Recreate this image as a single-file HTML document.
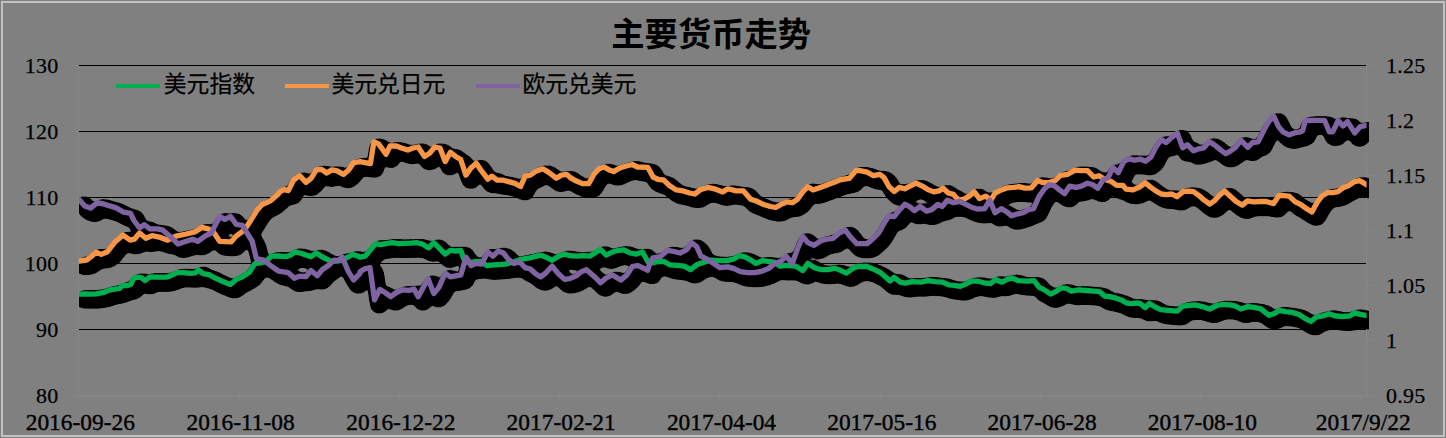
<!DOCTYPE html>
<html><head><meta charset="utf-8"><title>chart</title>
<style>
html,body{margin:0;padding:0;}
body{width:1446px;height:438px;background:#808080;overflow:hidden;position:relative;font-family:"Liberation Serif",serif;color:#000;}
.yl,.yr,.xl{position:absolute;white-space:nowrap;line-height:24px;height:24px;}
.yl{left:0;width:58.4px;text-align:right;font-size:22px;letter-spacing:0.25px;-webkit-text-stroke:0.25px #000;}
.yr{left:1386px;text-align:left;font-size:22px;letter-spacing:0.25px;-webkit-text-stroke:0.25px #000;}
.xl{top:410px;width:160px;text-align:center;font-size:23.4px;-webkit-text-stroke:0.4px #000;}
</style></head><body>
<svg width="1446" height="438" viewBox="0 0 1446 438" style="position:absolute;left:0;top:0"><defs><clipPath id="cp"><rect x="79" y="40" width="1290" height="380"/></clipPath></defs><rect x="2" y="2" width="1442" height="434" fill="none" stroke="#c0c0c0" stroke-width="2" shape-rendering="crispEdges"/><g stroke="#868686" stroke-width="1" shape-rendering="crispEdges"><line x1="71" y1="395.5" x2="1366" y2="395.5"/><line x1="78.5" y1="65" x2="78.5" y2="402"/><line x1="1366.5" y1="65" x2="1366.5" y2="396"/><line x1="71" y1="65.5" x2="79" y2="65.5"/><line x1="71" y1="131.5" x2="79" y2="131.5"/><line x1="71" y1="197.5" x2="79" y2="197.5"/><line x1="71" y1="263.5" x2="79" y2="263.5"/><line x1="71" y1="329.5" x2="79" y2="329.5"/><line x1="1366" y1="65.5" x2="1374" y2="65.5"/><line x1="1366" y1="120.5" x2="1374" y2="120.5"/><line x1="1366" y1="175.5" x2="1374" y2="175.5"/><line x1="1366" y1="230.5" x2="1374" y2="230.5"/><line x1="1366" y1="285.5" x2="1374" y2="285.5"/><line x1="1366" y1="340.5" x2="1374" y2="340.5"/><line x1="1366" y1="395.5" x2="1374" y2="395.5"/><line x1="239.5" y1="395" x2="239.5" y2="402"/><line x1="399.5" y1="395" x2="399.5" y2="402"/><line x1="559.5" y1="395" x2="559.5" y2="402"/><line x1="719.5" y1="395" x2="719.5" y2="402"/><line x1="880.5" y1="395" x2="880.5" y2="402"/><line x1="1040.5" y1="395" x2="1040.5" y2="402"/><line x1="1200.5" y1="395" x2="1200.5" y2="402"/><line x1="1360.5" y1="395" x2="1360.5" y2="402"/></g><g stroke="#000" stroke-width="1" shape-rendering="crispEdges"><line x1="79" y1="65.5" x2="1366" y2="65.5"/><line x1="79" y1="131.5" x2="1366" y2="131.5"/><line x1="79" y1="197.5" x2="1366" y2="197.5"/><line x1="79" y1="263.5" x2="1366" y2="263.5"/><line x1="79" y1="329.5" x2="1366" y2="329.5"/></g><defs><filter id="sh" filterUnits="userSpaceOnUse" x="40" y="80" width="1380" height="290" color-interpolation-filters="sRGB"><feGaussianBlur stdDeviation="3.3"/><feComponentTransfer><feFuncR type="linear" slope="0" intercept="0"/><feFuncG type="linear" slope="0" intercept="0"/><feFuncB type="linear" slope="0" intercept="0"/><feFuncA type="linear" slope="60" intercept="-0.7720"/></feComponentTransfer></filter></defs><g clip-path="url(#cp)"><g filter="url(#sh)"><g transform="translate(4.7 5.3)" fill="none" stroke="#000" stroke-width="6" stroke-linejoin="round" stroke-linecap="round"><polyline points="79.0,294.2 85.6,293.8 90.9,294.2 96.2,293.8 102.8,292.7 109.4,290.1 114.7,289.2 119.4,288.5 122.7,285.6 127.3,285.6 130.6,284.5 133.9,277.9 137.3,277.2 141.2,277.6 145.2,280.5 149.8,276.8 157.1,277.2 166.4,277.2 171.7,275.2 177.0,272.6 183.6,272.6 190.2,273.3 195.0,272.9 198.4,269.9 203.0,273.6 209.2,274.7 215.4,278.2 222.7,281.5 230.4,284.4 236.2,279.4 242.4,276.7 249.1,272.6 254.8,263.6 260.3,262.9 265.8,261.6 271.2,256.1 277.8,256.0 286.1,256.6 290.2,255.3 295.4,251.8 300.6,253.3 311.0,256.6 316.2,252.9 322.4,257.0 331.8,261.6 340.1,260.7 346.3,258.0 352.5,254.5 359.8,256.6 360.0,257.2 365.2,256.2 370.4,249.9 375.6,243.7 380.8,244.7 387.0,243.3 392.2,242.7 398.4,243.7 404.7,243.3 410.9,243.1 417.1,242.7 422.3,244.1 428.6,247.9 433.8,242.7 440.0,248.9 445.2,254.1 450.4,250.3 455.6,251.0 460.8,250.3 463.9,259.3 467.0,262.4 473.2,262.0 480.5,261.4 486.7,265.5 495.0,264.9 505.4,264.1 513.7,262.0 521.0,259.3 528.3,258.2 534.5,256.6 540.7,255.1 545.9,257.2 552.2,260.3 558.4,256.2 564.6,254.1 569.8,255.7 576.1,256.2 583.3,255.7 589.6,256.2 594.8,253.0 600.6,249.5 606.2,255.1 612.4,252.0 618.7,250.3 623.9,249.9 630.1,253.0 636.3,254.1 642.5,252.0 647.7,261.4 650.0,263.4 656.2,261.9 663.5,261.3 669.7,264.8 677.0,265.4 684.3,266.1 690.5,269.6 696.7,264.8 704.0,262.3 710.2,260.2 718.6,260.7 726.9,260.7 733.1,259.2 739.3,255.7 745.6,257.1 751.8,260.7 756.0,263.4 762.2,260.7 768.4,261.3 774.7,262.3 779.8,266.1 787.1,265.4 795.4,266.1 802.7,270.6 807.9,263.4 814.1,267.5 820.4,269.6 828.7,269.6 834.9,268.1 841.1,270.6 846.3,273.1 852.6,268.6 857.8,266.5 867.1,266.5 874.4,269.6 880.6,272.7 885.8,277.3 890.0,281.0 894.1,277.3 899.3,281.4 900.0,282.2 905.2,283.2 912.5,281.6 920.8,282.2 928.0,280.7 935.3,281.6 942.6,282.2 948.8,284.9 954.0,285.3 960.2,286.4 966.5,283.7 971.7,281.2 977.9,281.2 984.1,282.8 990.4,283.7 995.6,279.5 1001.8,282.2 1007.0,279.5 1012.2,278.0 1018.4,280.7 1026.7,281.2 1034.0,280.7 1039.2,287.4 1044.4,289.9 1050.6,294.0 1055.8,291.6 1061.0,287.8 1066.2,288.4 1071.4,291.1 1078.7,289.9 1085.9,290.5 1094.3,291.1 1099.4,291.6 1104.6,296.1 1109.8,296.7 1116.1,298.2 1121.3,299.9 1126.5,303.0 1131.6,303.6 1136.8,303.0 1140.0,303.4 1145.2,307.6 1149.3,303.4 1154.5,306.6 1160.8,309.7 1168.0,310.3 1177.4,311.1 1182.6,306.1 1188.8,305.5 1195.1,304.9 1202.3,306.6 1209.6,309.0 1216.9,305.5 1222.1,304.5 1230.4,304.9 1235.6,306.1 1240.8,309.0 1248.0,306.6 1255.3,307.6 1260.5,308.6 1268.8,315.3 1274.0,313.8 1279.2,310.3 1285.4,311.7 1292.7,312.4 1298.9,314.4 1305.2,318.6 1310.8,321.5 1316.6,316.9 1322.8,315.9 1329.1,313.8 1335.3,315.9 1342.6,316.5 1349.8,315.9 1355.0,312.8 1360.2,314.4 1366.0,315.3"/><polyline points="79.3,261.0 86.6,260.0 90.8,256.9 96.0,252.3 101.2,254.4 107.4,251.7 114.7,242.3 123.0,235.1 130.2,240.2 134.4,239.2 139.6,233.0 145.8,238.2 152.1,235.7 159.3,237.1 167.6,240.2 176.0,236.1 186.3,234.0 194.7,231.9 201.9,227.4 208.2,228.8 213.4,231.9 219.6,241.3 231.0,241.9 236.2,236.1 244.5,229.9 250.7,220.5 257.0,210.1 262.2,204.5 270.5,200.8 277.8,194.5 280.0,191.7 284.2,189.6 288.3,190.6 293.5,180.2 299.7,175.7 306.0,182.3 311.2,178.2 316.4,169.9 321.6,169.4 326.7,173.0 331.9,169.9 337.1,170.9 343.4,174.4 348.6,169.9 353.8,162.6 360.0,161.6 365.2,162.6 370.4,163.6 373.9,141.8 378.7,143.9 386.0,154.3 390.1,146.0 396.3,146.0 401.5,148.0 407.8,150.1 413.0,148.0 418.2,147.0 424.4,156.4 429.6,153.2 434.8,147.0 440.0,148.0 445.2,161.6 450.4,152.2 455.6,156.4 460.7,159.5 465.9,175.1 471.1,167.8 476.3,163.2 481.5,170.9 487.8,179.2 491.9,176.1 497.1,180.2 503.3,180.2 509.6,181.9 514.8,183.4 520.6,186.5 525.2,176.1 530.3,175.1 536.6,170.9 542.8,168.8 548.0,171.9 556.3,178.2 561.5,175.1 566.7,174.4 570.0,177.4 575.2,180.5 582.5,183.6 588.7,183.6 593.9,174.3 599.1,168.7 604.3,167.0 609.5,170.1 613.6,171.6 619.9,168.0 626.1,166.0 632.3,164.5 637.5,167.0 647.9,167.4 653.1,177.0 658.3,179.5 663.5,179.9 669.7,185.7 676.0,189.9 683.2,190.9 689.5,193.0 694.7,194.0 700.9,189.4 708.2,187.4 714.4,188.8 722.7,191.9 727.9,188.8 736.2,190.9 743.5,190.9 750.7,199.2 757.0,201.3 764.3,204.8 770.5,206.5 775.7,207.5 781.9,204.0 787.1,201.9 792.3,202.7 797.5,199.2 802.7,191.9 807.9,186.7 813.1,189.9 820.3,187.4 827.6,184.7 834.9,182.0 841.1,179.5 849.4,178.4 855.7,170.7 860.0,170.7 867.3,172.2 873.5,175.7 879.7,174.3 883.9,177.4 889.1,186.7 894.3,191.5 899.5,187.4 904.7,188.8 909.9,186.1 916.1,183.2 922.3,186.1 928.6,189.9 933.8,191.9 938.9,190.9 943.1,188.2 948.3,193.0 953.5,194.4 958.7,200.2 963.9,199.2 969.1,196.1 974.3,191.9 979.5,198.6 985.7,196.1 990.9,200.2 995.0,193.0 1001.3,189.9 1007.5,187.8 1013.7,187.4 1018.9,186.7 1025.2,188.2 1031.4,187.8 1037.6,180.5 1042.8,182.6 1049.1,182.6 1055.3,180.5 1060.5,175.3 1067.8,174.3 1075.0,170.1 1081.3,170.7 1087.5,170.7 1093.7,177.0 1098.9,175.7 1105.2,179.5 1111.4,181.6 1116.6,185.3 1122.8,185.3 1126.0,189.1 1133.2,189.9 1139.5,187.0 1145.3,182.8 1150.9,187.4 1156.1,191.1 1161.3,194.0 1166.5,194.7 1171.7,194.0 1176.9,196.7 1183.1,191.6 1188.3,191.1 1193.5,191.6 1198.7,195.3 1203.9,199.9 1209.7,204.0 1214.3,200.9 1219.5,195.3 1224.7,191.1 1230.9,196.7 1236.1,201.5 1242.3,205.1 1247.5,200.9 1253.7,201.9 1260.0,201.5 1266.2,201.5 1273.5,203.6 1278.7,195.7 1283.9,195.7 1289.1,196.1 1295.3,201.9 1300.5,204.4 1305.7,208.2 1311.9,211.9 1317.1,202.4 1322.3,195.7 1327.5,192.6 1332.7,192.6 1337.9,191.6 1343.1,187.8 1348.3,185.7 1354.5,181.6 1359.7,180.7 1367.0,184.9"/><polyline points="79.1,199.6 84.8,206.0 90.5,208.1 97.4,202.6 104.2,204.2 115.7,207.6 123.7,212.2 130.5,213.3 133.9,220.5 139.6,227.9 144.2,224.7 149.9,228.9 157.3,228.8 162.5,229.9 169.7,236.1 178.0,244.0 186.3,241.3 192.6,239.2 197.8,241.3 205.0,236.1 211.3,233.0 215.4,224.7 220.0,216.4 224.8,219.5 230.4,216.4 236.3,224.3 242.5,225.3 247.3,233.5 252.1,241.0 254.1,249.2 256.4,258.6 263.7,260.2 271.2,266.0 278.8,271.2 288.1,272.6 294.4,278.2 299.6,276.1 305.8,276.7 311.0,270.5 317.2,275.7 322.4,269.5 328.7,265.3 333.9,260.1 338.0,260.7 342.2,257.0 348.4,271.6 353.6,279.9 359.8,273.6 360.0,271.7 365.2,268.6 370.0,267.6 374.5,299.8 379.7,289.4 384.9,292.5 390.7,296.7 396.4,292.5 402.6,289.8 408.8,290.4 414.0,289.0 418.2,296.7 423.4,287.3 428.1,278.6 433.8,293.6 438.9,287.3 445.2,273.2 450.4,276.9 455.6,275.9 460.8,274.9 466.0,257.2 471.1,265.5 476.3,263.4 481.5,264.1 487.8,252.0 493.0,256.2 498.2,251.0 503.4,253.0 508.5,259.3 513.7,263.4 519.6,262.0 525.2,267.6 530.4,269.0 535.6,273.8 540.7,276.9 545.9,272.8 552.2,266.1 558.4,273.8 564.6,279.4 569.8,278.6 576.1,275.9 581.3,271.7 586.5,269.7 594.8,276.9 600.6,282.8 606.2,278.0 612.4,274.9 620.7,280.1 627.0,274.9 632.2,266.6 637.4,265.5 642.5,267.6 647.7,270.3 650.0,262.3 653.1,257.8 660.4,256.5 667.7,250.3 673.9,251.5 680.1,253.0 686.4,249.9 691.6,242.6 696.7,246.7 700.9,256.1 707.1,259.2 713.4,263.4 719.6,267.5 727.9,266.9 734.1,268.6 740.4,271.7 747.6,272.7 754.9,272.7 762.2,271.1 768.4,268.6 774.7,263.4 780.9,261.3 786.1,256.1 792.3,263.4 797.5,248.8 802.7,236.4 807.9,242.6 814.1,245.3 821.4,240.5 826.6,239.1 832.8,238.4 839.1,233.2 845.3,230.1 850.5,237.0 856.7,243.6 867.1,243.6 873.3,238.4 878.5,233.2 883.7,223.9 888.9,215.6 894.1,216.6 899.3,210.0 905.1,204.2 909.9,206.9 914.4,210.6 920.2,206.5 926.5,211.1 931.7,209.6 937.9,204.4 942.1,206.5 947.3,200.2 953.5,202.7 959.7,201.3 966.0,204.4 972.2,207.5 977.4,209.0 984.7,208.6 989.8,200.2 995.0,212.7 1001.3,208.6 1006.5,211.7 1011.7,215.8 1017.9,213.8 1023.1,212.7 1028.3,209.6 1033.5,208.6 1038.7,197.1 1043.9,189.4 1049.1,184.7 1054.3,185.7 1059.4,189.9 1064.6,193.6 1069.8,186.1 1076.1,187.4 1081.3,186.1 1087.5,183.2 1092.7,184.7 1097.9,188.2 1103.1,179.9 1108.3,177.4 1112.9,167.5 1118.3,172.7 1123.9,161.3 1129.1,158.6 1134.3,160.2 1140.5,159.2 1145.7,161.3 1150.9,157.1 1156.1,146.7 1161.3,139.5 1166.1,142.6 1171.7,137.4 1177.3,133.2 1182.7,147.8 1187.3,144.7 1193.5,150.9 1198.7,148.8 1203.9,147.8 1209.1,141.6 1214.3,144.7 1220.5,149.9 1225.7,153.6 1230.0,151.4 1235.5,147.3 1241.0,140.4 1247.8,147.3 1252.6,142.5 1258.1,141.8 1264.2,129.5 1269.0,121.2 1273.8,116.4 1278.6,126.7 1283.4,132.2 1288.9,134.9 1294.4,132.9 1299.2,132.2 1302.6,130.8 1305.3,120.5 1314.9,120.3 1324.5,120.3 1329.3,131.8 1332.7,131.8 1338.2,120.5 1343.0,126.0 1347.5,121.6 1354.7,132.9 1360.1,126.7 1366.3,125.3"/></g></g></g><defs><clipPath id="cl"><rect x="79" y="40" width="1287.6" height="380"/></clipPath></defs><g clip-path="url(#cl)" fill="none" stroke-width="5.3" stroke-linejoin="round" stroke-linecap="butt"><polyline points="76.0,294.4 79.0,294.2 85.6,293.8 90.9,294.2 96.2,293.8 102.8,292.7 109.4,290.1 114.7,289.2 119.4,288.5 122.7,285.6 127.3,285.6 130.6,284.5 133.9,277.9 137.3,277.2 141.2,277.6 145.2,280.5 149.8,276.8 157.1,277.2 166.4,277.2 171.7,275.2 177.0,272.6 183.6,272.6 190.2,273.3 195.0,272.9 198.4,269.9 203.0,273.6 209.2,274.7 215.4,278.2 222.7,281.5 230.4,284.4 236.2,279.4 242.4,276.7 249.1,272.6 254.8,263.6 260.3,262.9 265.8,261.6 271.2,256.1 277.8,256.0 286.1,256.6 290.2,255.3 295.4,251.8 300.6,253.3 311.0,256.6 316.2,252.9 322.4,257.0 331.8,261.6 340.1,260.7 346.3,258.0 352.5,254.5 359.8,256.6 360.0,257.2 365.2,256.2 370.4,249.9 375.6,243.7 380.8,244.7 387.0,243.3 392.2,242.7 398.4,243.7 404.7,243.3 410.9,243.1 417.1,242.7 422.3,244.1 428.6,247.9 433.8,242.7 440.0,248.9 445.2,254.1 450.4,250.3 455.6,251.0 460.8,250.3 463.9,259.3 467.0,262.4 473.2,262.0 480.5,261.4 486.7,265.5 495.0,264.9 505.4,264.1 513.7,262.0 521.0,259.3 528.3,258.2 534.5,256.6 540.7,255.1 545.9,257.2 552.2,260.3 558.4,256.2 564.6,254.1 569.8,255.7 576.1,256.2 583.3,255.7 589.6,256.2 594.8,253.0 600.6,249.5 606.2,255.1 612.4,252.0 618.7,250.3 623.9,249.9 630.1,253.0 636.3,254.1 642.5,252.0 647.7,261.4 650.0,263.4 656.2,261.9 663.5,261.3 669.7,264.8 677.0,265.4 684.3,266.1 690.5,269.6 696.7,264.8 704.0,262.3 710.2,260.2 718.6,260.7 726.9,260.7 733.1,259.2 739.3,255.7 745.6,257.1 751.8,260.7 756.0,263.4 762.2,260.7 768.4,261.3 774.7,262.3 779.8,266.1 787.1,265.4 795.4,266.1 802.7,270.6 807.9,263.4 814.1,267.5 820.4,269.6 828.7,269.6 834.9,268.1 841.1,270.6 846.3,273.1 852.6,268.6 857.8,266.5 867.1,266.5 874.4,269.6 880.6,272.7 885.8,277.3 890.0,281.0 894.1,277.3 899.3,281.4 900.0,282.2 905.2,283.2 912.5,281.6 920.8,282.2 928.0,280.7 935.3,281.6 942.6,282.2 948.8,284.9 954.0,285.3 960.2,286.4 966.5,283.7 971.7,281.2 977.9,281.2 984.1,282.8 990.4,283.7 995.6,279.5 1001.8,282.2 1007.0,279.5 1012.2,278.0 1018.4,280.7 1026.7,281.2 1034.0,280.7 1039.2,287.4 1044.4,289.9 1050.6,294.0 1055.8,291.6 1061.0,287.8 1066.2,288.4 1071.4,291.1 1078.7,289.9 1085.9,290.5 1094.3,291.1 1099.4,291.6 1104.6,296.1 1109.8,296.7 1116.1,298.2 1121.3,299.9 1126.5,303.0 1131.6,303.6 1136.8,303.0 1140.0,303.4 1145.2,307.6 1149.3,303.4 1154.5,306.6 1160.8,309.7 1168.0,310.3 1177.4,311.1 1182.6,306.1 1188.8,305.5 1195.1,304.9 1202.3,306.6 1209.6,309.0 1216.9,305.5 1222.1,304.5 1230.4,304.9 1235.6,306.1 1240.8,309.0 1248.0,306.6 1255.3,307.6 1260.5,308.6 1268.8,315.3 1274.0,313.8 1279.2,310.3 1285.4,311.7 1292.7,312.4 1298.9,314.4 1305.2,318.6 1310.8,321.5 1316.6,316.9 1322.8,315.9 1329.1,313.8 1335.3,315.9 1342.6,316.5 1349.8,315.9 1355.0,312.8 1360.2,314.4 1366.0,315.3 1369.0,315.7" stroke="#00B050"/><polyline points="76.3,261.5 79.3,261.0 86.6,260.0 90.8,256.9 96.0,252.3 101.2,254.4 107.4,251.7 114.7,242.3 123.0,235.1 130.2,240.2 134.4,239.2 139.6,233.0 145.8,238.2 152.1,235.7 159.3,237.1 167.6,240.2 176.0,236.1 186.3,234.0 194.7,231.9 201.9,227.4 208.2,228.8 213.4,231.9 219.6,241.3 231.0,241.9 236.2,236.1 244.5,229.9 250.7,220.5 257.0,210.1 262.2,204.5 270.5,200.8 277.8,194.5 280.0,191.7 284.2,189.6 288.3,190.6 293.5,180.2 299.7,175.7 306.0,182.3 311.2,178.2 316.4,169.9 321.6,169.4 326.7,173.0 331.9,169.9 337.1,170.9 343.4,174.4 348.6,169.9 353.8,162.6 360.0,161.6 365.2,162.6 370.4,163.6 373.9,141.8 378.7,143.9 386.0,154.3 390.1,146.0 396.3,146.0 401.5,148.0 407.8,150.1 413.0,148.0 418.2,147.0 424.4,156.4 429.6,153.2 434.8,147.0 440.0,148.0 445.2,161.6 450.4,152.2 455.6,156.4 460.7,159.5 465.9,175.1 471.1,167.8 476.3,163.2 481.5,170.9 487.8,179.2 491.9,176.1 497.1,180.2 503.3,180.2 509.6,181.9 514.8,183.4 520.6,186.5 525.2,176.1 530.3,175.1 536.6,170.9 542.8,168.8 548.0,171.9 556.3,178.2 561.5,175.1 566.7,174.4 570.0,177.4 575.2,180.5 582.5,183.6 588.7,183.6 593.9,174.3 599.1,168.7 604.3,167.0 609.5,170.1 613.6,171.6 619.9,168.0 626.1,166.0 632.3,164.5 637.5,167.0 647.9,167.4 653.1,177.0 658.3,179.5 663.5,179.9 669.7,185.7 676.0,189.9 683.2,190.9 689.5,193.0 694.7,194.0 700.9,189.4 708.2,187.4 714.4,188.8 722.7,191.9 727.9,188.8 736.2,190.9 743.5,190.9 750.7,199.2 757.0,201.3 764.3,204.8 770.5,206.5 775.7,207.5 781.9,204.0 787.1,201.9 792.3,202.7 797.5,199.2 802.7,191.9 807.9,186.7 813.1,189.9 820.3,187.4 827.6,184.7 834.9,182.0 841.1,179.5 849.4,178.4 855.7,170.7 860.0,170.7 867.3,172.2 873.5,175.7 879.7,174.3 883.9,177.4 889.1,186.7 894.3,191.5 899.5,187.4 904.7,188.8 909.9,186.1 916.1,183.2 922.3,186.1 928.6,189.9 933.8,191.9 938.9,190.9 943.1,188.2 948.3,193.0 953.5,194.4 958.7,200.2 963.9,199.2 969.1,196.1 974.3,191.9 979.5,198.6 985.7,196.1 990.9,200.2 995.0,193.0 1001.3,189.9 1007.5,187.8 1013.7,187.4 1018.9,186.7 1025.2,188.2 1031.4,187.8 1037.6,180.5 1042.8,182.6 1049.1,182.6 1055.3,180.5 1060.5,175.3 1067.8,174.3 1075.0,170.1 1081.3,170.7 1087.5,170.7 1093.7,177.0 1098.9,175.7 1105.2,179.5 1111.4,181.6 1116.6,185.3 1122.8,185.3 1126.0,189.1 1133.2,189.9 1139.5,187.0 1145.3,182.8 1150.9,187.4 1156.1,191.1 1161.3,194.0 1166.5,194.7 1171.7,194.0 1176.9,196.7 1183.1,191.6 1188.3,191.1 1193.5,191.6 1198.7,195.3 1203.9,199.9 1209.7,204.0 1214.3,200.9 1219.5,195.3 1224.7,191.1 1230.9,196.7 1236.1,201.5 1242.3,205.1 1247.5,200.9 1253.7,201.9 1260.0,201.5 1266.2,201.5 1273.5,203.6 1278.7,195.7 1283.9,195.7 1289.1,196.1 1295.3,201.9 1300.5,204.4 1305.7,208.2 1311.9,211.9 1317.1,202.4 1322.3,195.7 1327.5,192.6 1332.7,192.6 1337.9,191.6 1343.1,187.8 1348.3,185.7 1354.5,181.6 1359.7,180.7 1367.0,184.9 1370.0,186.6" stroke="#F79646"/><polyline points="76.1,196.3 79.1,199.6 84.8,206.0 90.5,208.1 97.4,202.6 104.2,204.2 115.7,207.6 123.7,212.2 130.5,213.3 133.9,220.5 139.6,227.9 144.2,224.7 149.9,228.9 157.3,228.8 162.5,229.9 169.7,236.1 178.0,244.0 186.3,241.3 192.6,239.2 197.8,241.3 205.0,236.1 211.3,233.0 215.4,224.7 220.0,216.4 224.8,219.5 230.4,216.4 236.3,224.3 242.5,225.3 247.3,233.5 252.1,241.0 254.1,249.2 256.4,258.6 263.7,260.2 271.2,266.0 278.8,271.2 288.1,272.6 294.4,278.2 299.6,276.1 305.8,276.7 311.0,270.5 317.2,275.7 322.4,269.5 328.7,265.3 333.9,260.1 338.0,260.7 342.2,257.0 348.4,271.6 353.6,279.9 359.8,273.6 360.0,271.7 365.2,268.6 370.0,267.6 374.5,299.8 379.7,289.4 384.9,292.5 390.7,296.7 396.4,292.5 402.6,289.8 408.8,290.4 414.0,289.0 418.2,296.7 423.4,287.3 428.1,278.6 433.8,293.6 438.9,287.3 445.2,273.2 450.4,276.9 455.6,275.9 460.8,274.9 466.0,257.2 471.1,265.5 476.3,263.4 481.5,264.1 487.8,252.0 493.0,256.2 498.2,251.0 503.4,253.0 508.5,259.3 513.7,263.4 519.6,262.0 525.2,267.6 530.4,269.0 535.6,273.8 540.7,276.9 545.9,272.8 552.2,266.1 558.4,273.8 564.6,279.4 569.8,278.6 576.1,275.9 581.3,271.7 586.5,269.7 594.8,276.9 600.6,282.8 606.2,278.0 612.4,274.9 620.7,280.1 627.0,274.9 632.2,266.6 637.4,265.5 642.5,267.6 647.7,270.3 650.0,262.3 653.1,257.8 660.4,256.5 667.7,250.3 673.9,251.5 680.1,253.0 686.4,249.9 691.6,242.6 696.7,246.7 700.9,256.1 707.1,259.2 713.4,263.4 719.6,267.5 727.9,266.9 734.1,268.6 740.4,271.7 747.6,272.7 754.9,272.7 762.2,271.1 768.4,268.6 774.7,263.4 780.9,261.3 786.1,256.1 792.3,263.4 797.5,248.8 802.7,236.4 807.9,242.6 814.1,245.3 821.4,240.5 826.6,239.1 832.8,238.4 839.1,233.2 845.3,230.1 850.5,237.0 856.7,243.6 867.1,243.6 873.3,238.4 878.5,233.2 883.7,223.9 888.9,215.6 894.1,216.6 899.3,210.0 905.1,204.2 909.9,206.9 914.4,210.6 920.2,206.5 926.5,211.1 931.7,209.6 937.9,204.4 942.1,206.5 947.3,200.2 953.5,202.7 959.7,201.3 966.0,204.4 972.2,207.5 977.4,209.0 984.7,208.6 989.8,200.2 995.0,212.7 1001.3,208.6 1006.5,211.7 1011.7,215.8 1017.9,213.8 1023.1,212.7 1028.3,209.6 1033.5,208.6 1038.7,197.1 1043.9,189.4 1049.1,184.7 1054.3,185.7 1059.4,189.9 1064.6,193.6 1069.8,186.1 1076.1,187.4 1081.3,186.1 1087.5,183.2 1092.7,184.7 1097.9,188.2 1103.1,179.9 1108.3,177.4 1112.9,167.5 1118.3,172.7 1123.9,161.3 1129.1,158.6 1134.3,160.2 1140.5,159.2 1145.7,161.3 1150.9,157.1 1156.1,146.7 1161.3,139.5 1166.1,142.6 1171.7,137.4 1177.3,133.2 1182.7,147.8 1187.3,144.7 1193.5,150.9 1198.7,148.8 1203.9,147.8 1209.1,141.6 1214.3,144.7 1220.5,149.9 1225.7,153.6 1230.0,151.4 1235.5,147.3 1241.0,140.4 1247.8,147.3 1252.6,142.5 1258.1,141.8 1264.2,129.5 1269.0,121.2 1273.8,116.4 1278.6,126.7 1283.4,132.2 1288.9,134.9 1294.4,132.9 1299.2,132.2 1302.6,130.8 1305.3,120.5 1314.9,120.3 1324.5,120.3 1329.3,131.8 1332.7,131.8 1338.2,120.5 1343.0,126.0 1347.5,121.6 1354.7,132.9 1360.1,126.7 1366.3,125.3 1369.3,124.7" stroke="#8064A2"/></g><rect x="116" y="84" width="44" height="4" fill="#00B050"/><rect x="285" y="84" width="44" height="4" fill="#F79646"/><rect x="476" y="84" width="44" height="4" fill="#8064A2"/><text x="163.8" y="92.3" font-size="22.8" fill="#000" stroke="#000" stroke-width="0.25" font-family="&quot;Liberation Sans&quot;, &quot;Noto Sans CJK SC&quot;, sans-serif">美元指数</text><text x="331.4" y="92.3" font-size="22.8" fill="#000" stroke="#000" stroke-width="0.25" font-family="&quot;Liberation Sans&quot;, &quot;Noto Sans CJK SC&quot;, sans-serif">美元兑日元</text><text x="522.4" y="92.3" font-size="22.8" fill="#000" stroke="#000" stroke-width="0.25" font-family="&quot;Liberation Sans&quot;, &quot;Noto Sans CJK SC&quot;, sans-serif">欧元兑美元</text><text x="611.3" y="45.6" font-size="33.3" font-weight="bold" fill="#000" font-family="&quot;Liberation Sans&quot;, &quot;Noto Sans CJK SC&quot;, sans-serif">主要货币走势</text></svg>
<div class="yl" style="top:53.6px">130</div><div class="yl" style="top:119.6px">120</div><div class="yl" style="top:185.6px">110</div><div class="yl" style="top:251.6px">100</div><div class="yl" style="top:317.6px">90</div><div class="yl" style="top:383.6px">80</div><div class="yr" style="top:53.6px">1.25</div><div class="yr" style="top:108.6px">1.2</div><div class="yr" style="top:163.6px">1.15</div><div class="yr" style="top:218.6px">1.1</div><div class="yr" style="top:273.6px">1.05</div><div class="yr" style="top:328.6px">1</div><div class="yr" style="top:383.6px">0.95</div><div class="xl" style="left:0.3px">2016-09-26</div><div class="xl" style="left:160.6px">2016-11-08</div><div class="xl" style="left:320.9px">2016-12-22</div><div class="xl" style="left:481.2px">2017-02-21</div><div class="xl" style="left:641.5px">2017-04-04</div><div class="xl" style="left:801.8px">2017-05-16</div><div class="xl" style="left:962.1px">2017-06-28</div><div class="xl" style="left:1122.4px">2017-08-10</div><div class="xl" style="left:1283.2px">2017/9/22</div>
</body></html>
